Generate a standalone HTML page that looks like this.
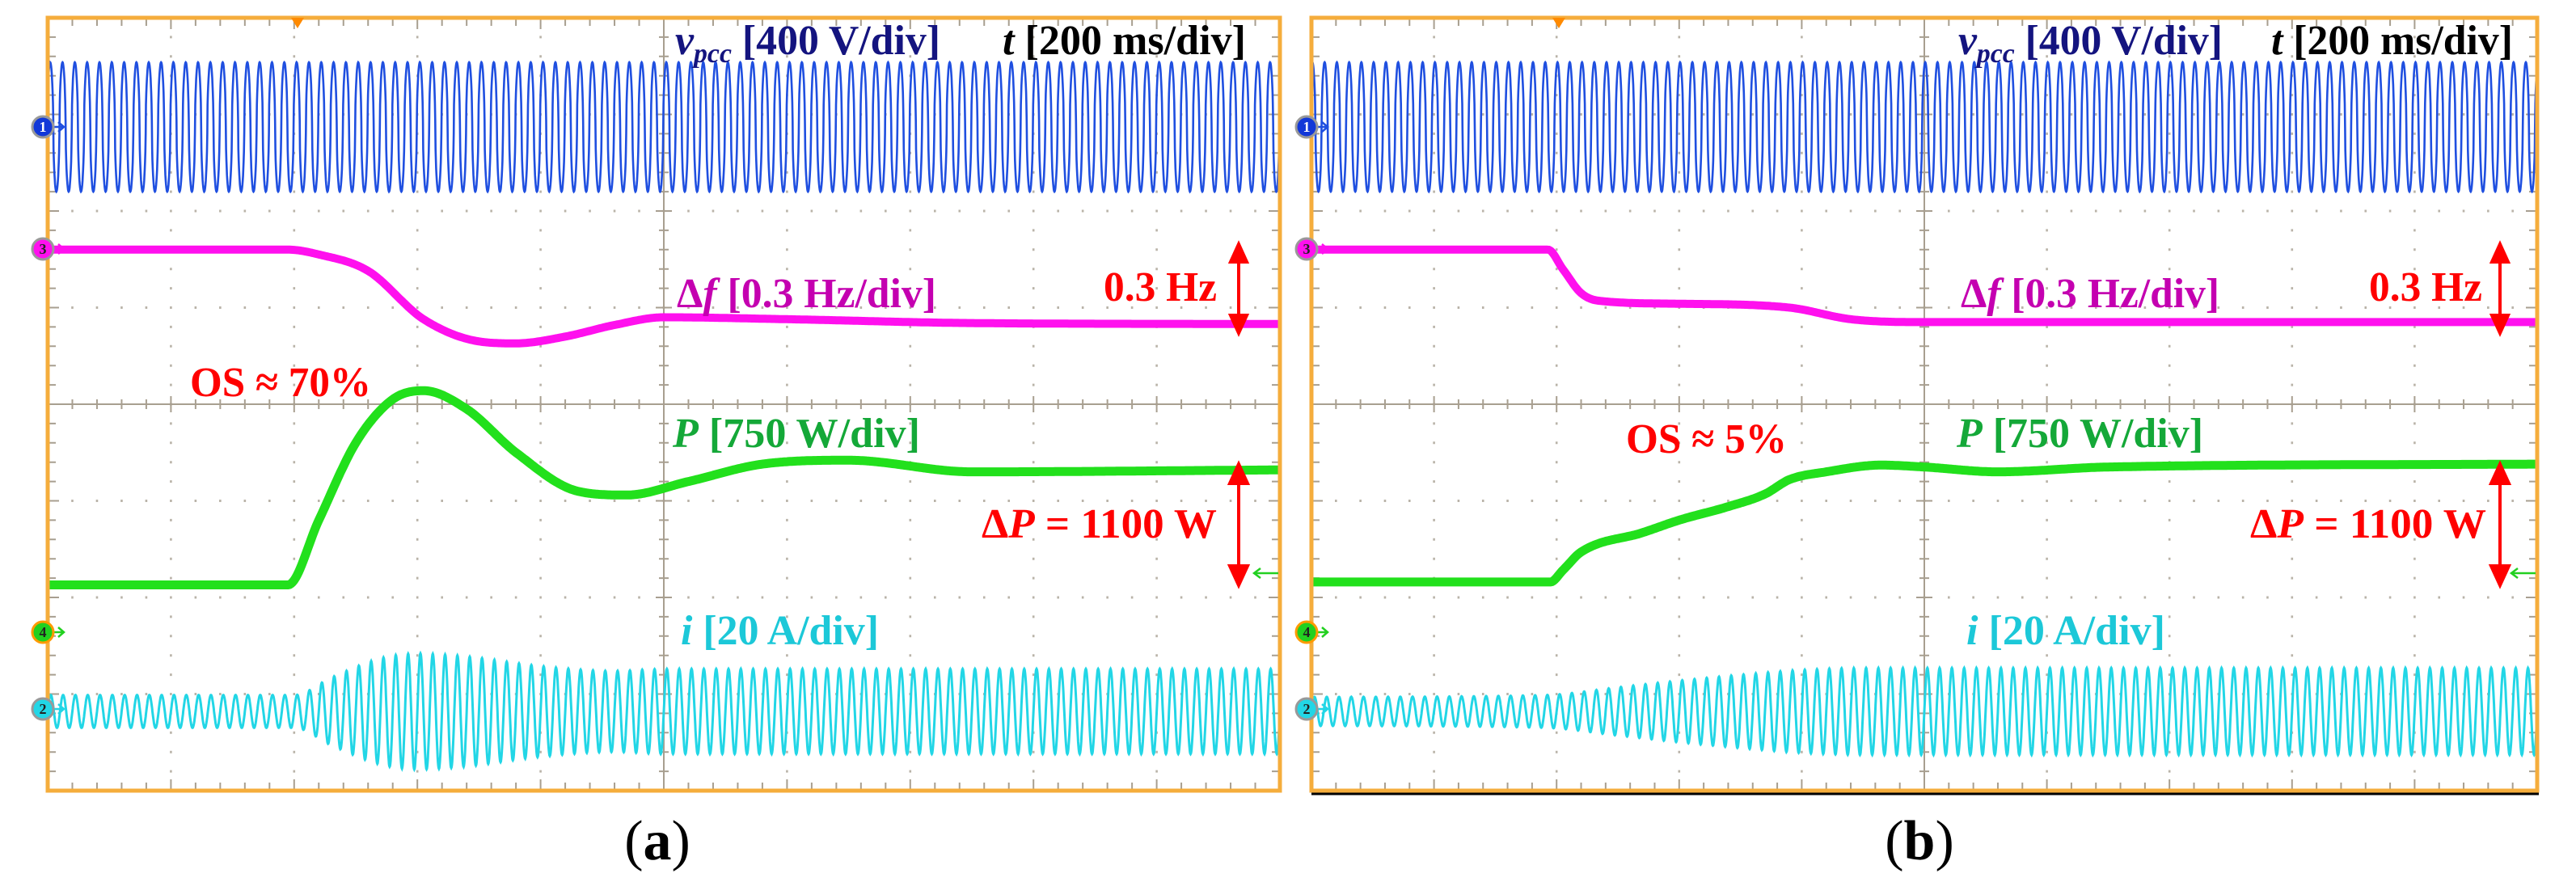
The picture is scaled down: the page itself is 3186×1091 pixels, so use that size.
<!DOCTYPE html>
<html><head><meta charset="utf-8"><title>Oscilloscope traces (a) and (b)</title>
<style>
html,body{margin:0;padding:0;background:#fff;}
svg{display:block;}
text{font-family:"Liberation Serif",serif;font-weight:bold;}
</style></head>
<body>
<svg id="fig" width="3186" height="1091" viewBox="0 0 3186 1091" xmlns="http://www.w3.org/2000/svg">
<rect x="0" y="0" width="3186" height="1091" fill="#fff"/>
<g id="panelA"></g>
<g id="panelB"></g>
<line x1="1622" y1="982" x2="3140" y2="982" stroke="#000" stroke-width="3"/>

<g font-size="52">
<text x="835" y="67" fill="#14147f" textLength="328" lengthAdjust="spacingAndGlyphs"><tspan font-style="italic">v</tspan><tspan font-style="italic" font-size="34" dy="10">pcc</tspan><tspan dy="-10"> [400 V/div]</tspan></text>
<text x="1240" y="67" fill="#000" textLength="301" lengthAdjust="spacingAndGlyphs"><tspan font-style="italic">t</tspan> [200 ms/div]</text>
<text x="837" y="380" fill="#c400b0" textLength="321" lengthAdjust="spacingAndGlyphs">Δ<tspan font-style="italic">f</tspan> [0.3 Hz/div]</text>
<text x="1365" y="372" fill="#ff0000" textLength="140" lengthAdjust="spacingAndGlyphs">0.3 Hz</text>
<text x="235" y="490" fill="#ff0000" textLength="224" lengthAdjust="spacingAndGlyphs">OS ≈ 70%</text>
<text x="832" y="553" fill="#14a838" textLength="306" lengthAdjust="spacingAndGlyphs"><tspan font-style="italic">P</tspan> [750 W/div]</text>
<text x="1214" y="665" fill="#ff0000" textLength="291" lengthAdjust="spacingAndGlyphs">Δ<tspan font-style="italic">P</tspan> = 1100 W</text>
<text x="842" y="797" fill="#1cc8d8" textLength="245" lengthAdjust="spacingAndGlyphs"><tspan font-style="italic">i</tspan> [20 A/div]</text>
</g>
<g font-size="52">
<text x="2422" y="67" fill="#14147f" textLength="327" lengthAdjust="spacingAndGlyphs"><tspan font-style="italic">v</tspan><tspan font-style="italic" font-size="34" dy="10">pcc</tspan><tspan dy="-10"> [400 V/div]</tspan></text>
<text x="2809" y="67" fill="#000" textLength="299" lengthAdjust="spacingAndGlyphs"><tspan font-style="italic">t</tspan> [200 ms/div]</text>
<text x="2425" y="380" fill="#c400b0" textLength="320" lengthAdjust="spacingAndGlyphs">Δ<tspan font-style="italic">f</tspan> [0.3 Hz/div]</text>
<text x="2930" y="372" fill="#ff0000" textLength="140" lengthAdjust="spacingAndGlyphs">0.3 Hz</text>
<text x="2011" y="560" fill="#ff0000" textLength="199" lengthAdjust="spacingAndGlyphs">OS ≈ 5%</text>
<text x="2420" y="553" fill="#14a838" textLength="305" lengthAdjust="spacingAndGlyphs"><tspan font-style="italic">P</tspan> [750 W/div]</text>
<text x="2783" y="665" fill="#ff0000" textLength="292" lengthAdjust="spacingAndGlyphs">Δ<tspan font-style="italic">P</tspan> = 1100 W</text>
<text x="2432" y="797" fill="#1cc8d8" textLength="246" lengthAdjust="spacingAndGlyphs"><tspan font-style="italic">i</tspan> [20 A/div]</text>
</g>
<text x="813" y="1063" font-size="70" text-anchor="middle" style="font-weight:normal">(<tspan style="font-weight:bold">a</tspan>)</text>
<text x="2374" y="1063" font-size="70" text-anchor="middle" style="font-weight:normal">(<tspan style="font-weight:bold">b</tspan>)</text>
</svg>
<script>
// ---- data (values in screen divisions from top of graticule, time in divisions) ----
const dfTimeA = [0, 1.95, 2.2, 2.6, 3.05, 3.5, 3.8, 4.2, 4.6, 5.0, 6.0, 7.5, 10];
const dfValA  = [2.4, 2.4, 2.45, 2.62, 3.12, 3.35, 3.37, 3.3, 3.18, 3.1, 3.12, 3.16, 3.17];
const pTimeA  = [0, 1.95, 2.2, 2.5, 2.8, 3.05, 3.4, 3.8, 4.3, 4.7, 5.2, 5.8, 6.5, 7.5, 10];
const pValA   = [5.87, 5.87, 5.2, 4.4, 3.95, 3.86, 4.05, 4.5, 4.9, 4.94, 4.8, 4.62, 4.58, 4.7, 4.68];
const iTimeA  = [0, 2.0, 2.3, 2.7, 3.0, 3.4, 4.0, 4.6, 5.0, 10];
const iAmpA   = [0.17, 0.17, 0.35, 0.55, 0.6, 0.57, 0.47, 0.42, 0.44, 0.44];

const dfTimeB = [0, 1.93, 2.05, 2.2, 2.35, 3.0, 3.9, 4.4, 5.0, 10];
const dfValB  = [2.4, 2.4, 2.6, 2.85, 2.93, 2.96, 3.0, 3.12, 3.15, 3.15];
const pTimeB  = [0, 1.95, 2.05, 2.2, 2.7, 3.0, 3.4, 3.7, 3.9, 4.2, 4.65, 5.0, 5.6, 6.5, 10];
const pValB   = [5.84, 5.84, 5.72, 5.53, 5.33, 5.2, 5.06, 4.93, 4.78, 4.7, 4.63, 4.65, 4.7, 4.65, 4.62];
const iTimeB  = [0, 1.9, 2.5, 3.0, 3.5, 4.0, 4.5, 10];
const iAmpB   = [0.15, 0.17, 0.25, 0.32, 0.38, 0.43, 0.45, 0.45];

const vCenter = [1.13];
const vAmp = [0.67];
const iCenter = [7.18];
const cyclesPerDiv = [10];

const NS = "http://www.w3.org/2000/svg";
function mk(tag, attrs, parent) {
  const e = document.createElementNS(NS, tag);
  for (const k in attrs) e.setAttribute(k, attrs[k]);
  parent.appendChild(e);
  return e;
}
// monotone cubic (Fritsch-Carlson) interpolation
function interp(ts, vs, t) {
  const n = ts.length;
  if (t <= ts[0]) return vs[0];
  if (t >= ts[n-1]) return vs[n-1];
  const dl = [], m = [];
  for (let k = 0; k < n - 1; k++) dl.push((vs[k+1] - vs[k]) / (ts[k+1] - ts[k]));
  m.push(dl[0]);
  for (let k = 1; k < n - 1; k++) m.push(dl[k-1] * dl[k] <= 0 ? 0 : (dl[k-1] + dl[k]) / 2);
  m.push(dl[n-2]);
  for (let k = 0; k < n - 1; k++) {
    if (dl[k] === 0) { m[k] = 0; m[k+1] = 0; continue; }
    const a = m[k] / dl[k], b = m[k+1] / dl[k], s = a*a + b*b;
    if (s > 9) { const tt = 3 / Math.sqrt(s); m[k] = tt*a*dl[k]; m[k+1] = tt*b*dl[k]; }
  }
  let k = 0;
  while (t > ts[k+1]) k++;
  const h = ts[k+1] - ts[k], u = (t - ts[k]) / h;
  const h00 = 2*u*u*u - 3*u*u + 1, h10 = u*u*u - 2*u*u + u, h01 = -2*u*u*u + 3*u*u, h11 = u*u*u - u*u;
  return h00*vs[k] + h10*h*m[k] + h01*vs[k+1] + h11*h*m[k+1];
}

function drawPanel(g, cfg) {
  const L = cfg.left, R = cfg.right, T = 22, B = 978;
  const dx = (R - L) / 10, dy = (B - T) / 8;
  const X = t => L + t * dx;
  const Y = v => T + v * dy;

  const grid = mk('g', {}, g);
  
  
  let d = '';
  for (let i = 1; i < 10; i++) {
    if (i === 5) continue;
    for (let j = 1; j < 40; j++) { const x = X(i), y = Y(j / 5); d += `M${x-1.3},${y}h2.6`; }
  }
  for (let j = 1; j < 8; j++) {
    if (j === 4) continue;
    for (let i = 1; i < 50; i++) { const x = X(i / 5), y = Y(j); d += `M${x-1.3},${y}h2.6`; }
  }
  mk('path', {d: d, stroke: '#b9b3a8', 'stroke-width': 3, fill: 'none'}, grid);

  let c = `M${X(5)},${T}V${B}M${L},${Y(4)}H${R}`;
  for (let i = 1; i < 50; i++) { const x = X(i / 5); const len = i % 5 === 0 ? 10 : 6; c += `M${x},${Y(4)-len}v${2*len}`; c += `M${x},${B}v${-(i%5===0?14:10)}M${x},${T}v${i%5===0?14:10}`; }
  for (let j = 1; j < 40; j++) { const y = Y(j / 5); const len = j % 5 === 0 ? 10 : 6; c += `M${X(5)-len},${y}h${2*len}`; c += `M${L},${y}h${j%5===0?14:10}M${R},${y}h${-(j%5===0?14:10)}`; }
  const cross = mk('path', {d: c, stroke: '#a89f90', 'stroke-width': 2, fill: 'none'}, g);
  
  

  let vp = '';
  const N = 4000;
  for (let k = 0; k <= N; k++) {
    const t = 10 * k / N;
    const s = Math.sin(2 * Math.PI * cyclesPerDiv[0] * t + cfg.phase);
    const sh = Math.sign(s) * Math.pow(Math.abs(s), 0.55);
    vp += (k ? 'L' : 'M') + X(t).toFixed(1) + ',' + Y(vCenter[0] - vAmp[0] * sh).toFixed(1);
  }
  const v = mk('path', {d: vp, stroke: '#1f4fe0', 'stroke-width': 2.6, fill: 'none'}, g);
  
  

  let fp = '';
  for (let k = 0; k <= 800; k++) { const t = 10 * k / 800; fp += (k ? 'L' : 'M') + X(t).toFixed(1) + ',' + Y(interp(cfg.dfT, cfg.dfV, t)).toFixed(1); }
  const f = mk('path', {d: fp, stroke: '#ff10ee', 'stroke-width': 10, fill: 'none', 'stroke-linejoin': 'round'}, g);
  
  

  let pp = '';
  for (let k = 0; k <= 800; k++) { const t = 10 * k / 800; pp += (k ? 'L' : 'M') + X(t).toFixed(1) + ',' + Y(interp(cfg.pT, cfg.pV, t)).toFixed(1); }
  const p = mk('path', {d: pp, stroke: '#22e01c', 'stroke-width': 11, fill: 'none', 'stroke-linejoin': 'round'}, g);
  
  

  let ip = '';
  for (let k = 0; k <= N; k++) {
    const t = 10 * k / N;
    const a = interp(cfg.iT, cfg.iA, t);
    ip += (k ? 'L' : 'M') + X(t).toFixed(1) + ',' + Y(iCenter[0] - a * Math.sin(2 * Math.PI * cyclesPerDiv[0] * t)).toFixed(1);
  }
  const cur = mk('path', {d: ip, stroke: '#22d6e6', 'stroke-width': 3, fill: 'none'}, g);
  
  

  const fr = mk('rect', {x: L, y: T, width: R - L, height: B - T, fill: 'none', stroke: '#f5ad3c', 'stroke-width': 5}, g);
  
  

  const tr = mk('path', {d: `M${cfg.trig-8},${T}h16l-8,13z`, fill: '#ff8a00'}, g);
  
  

  const chans = [[1, 157, '#1238d8', '#1f4fe0'], [3, 308, '#ff10ee', '#ff10ee'], [4, 782, '#22d020', '#22d020'], [2, 877, '#22d6e6', '#22d6e6']];
  for (const ch of chans) {
    const mg = mk('g', {}, g);
    
    
    mk('path', {d: `M${L-4},${ch[1]}h24m-7,-6l7,6l-7,6`, stroke: ch[3], 'stroke-width': 2.5, fill: 'none'}, mg);
    mk('circle', {cx: L - 6, cy: ch[1], r: 13, fill: ch[2], stroke: ch[0] === 4 ? '#ff9a00' : '#999', 'stroke-width': 3}, mg);
    const tx = mk('text', {x: L - 6, y: ch[1] + 6, 'font-size': 18, 'text-anchor': 'middle', fill: ch[0] === 1 ? '#fff' : '#222'}, mg);
    tx.textContent = String(ch[0]);
  }

  const ax = cfg.arrowX;
  const a1 = mk('path', {d: `M${ax},${316}V${398}M${ax-10},${324}l10,-22l10,22zM${ax-10},${390}l10,22l10,-22z`, stroke: '#ff0000', 'stroke-width': 4, fill: '#ff0000'}, g);
  
  
  const a2 = mk('path', {d: `M${ax},${582}V${716}M${ax-11},${598}l11,-24l11,24zM${ax-11},${700}l11,24l11,-24z`, stroke: '#ff0000', 'stroke-width': 4, fill: '#ff0000'}, g);
  
  
  const ga = mk('path', {d: `M${R-2},709H${R-32}m8,-6l-8,6l8,6`, stroke: '#22d020', 'stroke-width': 2.5, fill: 'none'}, g);
  
  
}

drawPanel(document.getElementById('panelA'), {left: 59, right: 1583, trig: 368, arrowX: 1532, phase: 0.3,
  dfT: dfTimeA, dfV: dfValA, pT: pTimeA, pV: pValA, iT: iTimeA, iA: iAmpA});
drawPanel(document.getElementById('panelB'), {left: 1622, right: 3138, trig: 1928, arrowX: 3092, phase: 1.1,
  dfT: dfTimeB, dfV: dfValB, pT: pTimeB, pV: pValB, iT: iTimeB, iA: iAmpB});
</script>
</body></html>
